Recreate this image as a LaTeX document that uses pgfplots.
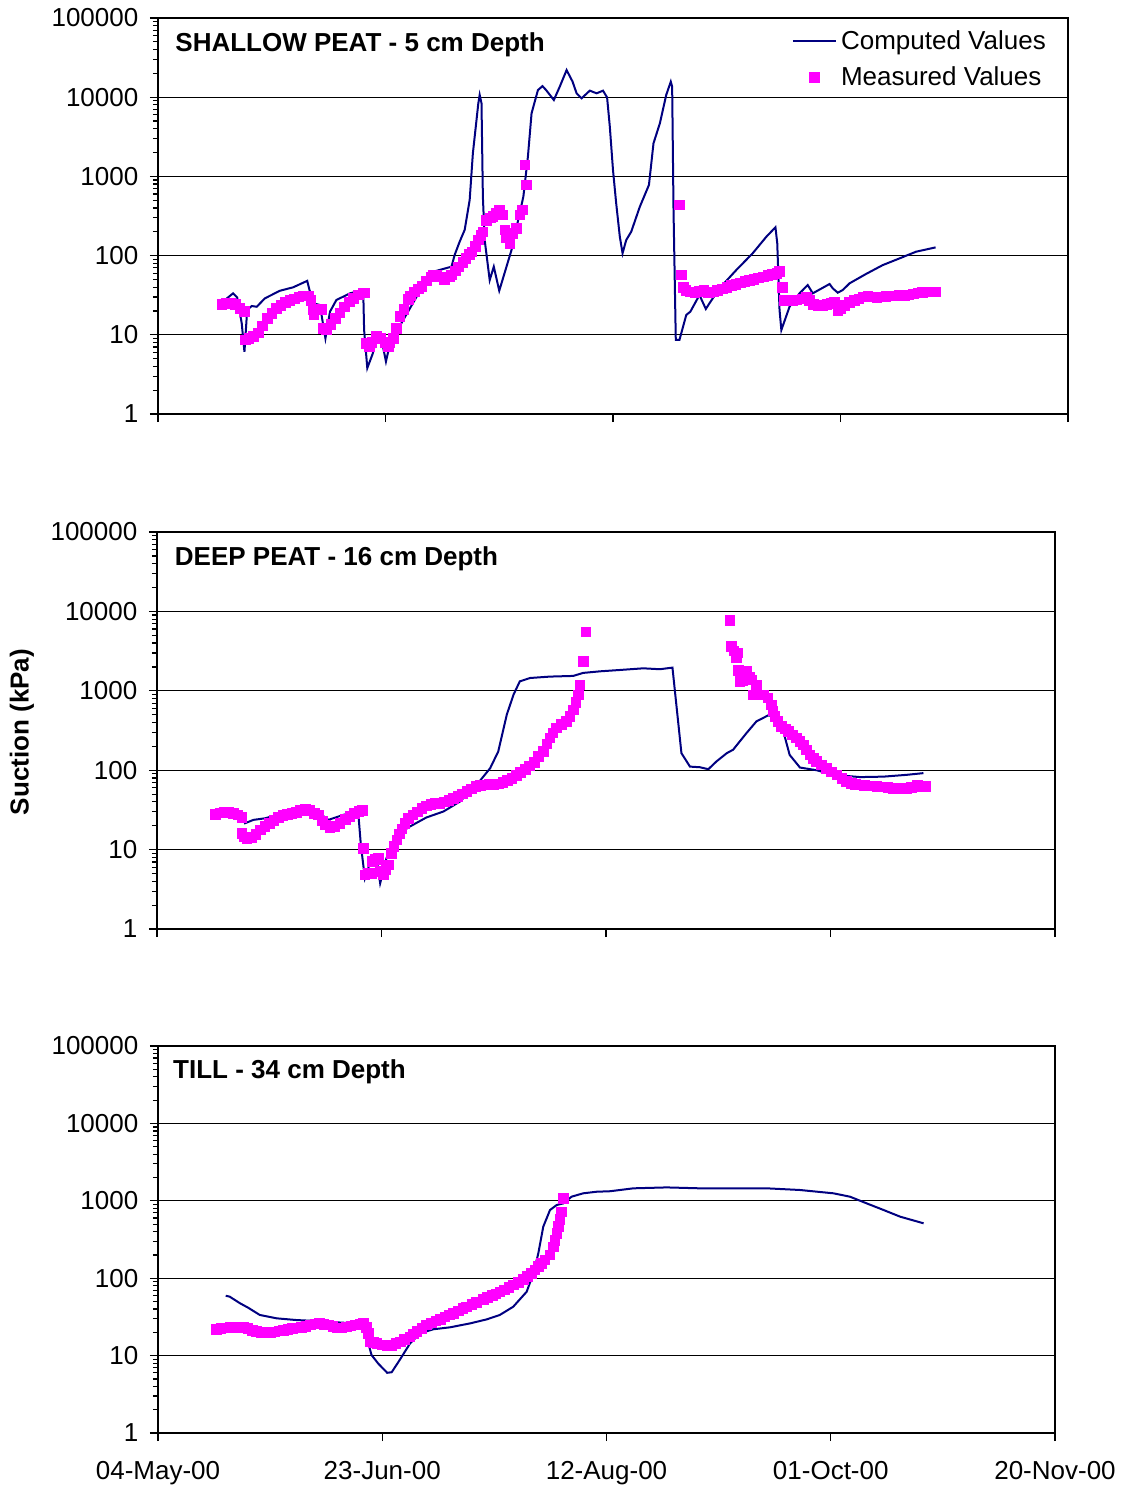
\documentclass[border=0pt]{standalone}
\usepackage{fontspec}
\setmainfont{Liberation Sans}
\usepackage{pgfplots}
\pgfplotsset{compat=1.18}
\definecolor{navyline}{RGB}{0,0,128}
\definecolor{mag}{RGB}{255,0,255}
\pgfplotsset{
  linelegend/.style={legend image code/.code={\draw[##1] (0cm,0cm) -- (0.76cm,0cm);}},
  marklegend/.style={legend image code/.code={\draw[mark repeat=2,mark phase=2,##1] plot coordinates {(0cm,0cm) (0.38cm,0cm) (0.76cm,0cm)};}},
}
\begin{document}
\begin{tikzpicture}[font=\fontsize{13}{15.6}\selectfont]
\useasboundingbox (0,0) rectangle (560pt,-744pt);
% ---------------- Panel 1 ----------------
\begin{axis}[ymode=log, scale only axis, anchor=south west,
    xmin=0, xmax=200, ymin=1, ymax=100000,
    xtick={0,50,100,150,200}, xticklabels={},
    ytick={1,10,100,1000,10000,100000},
    yticklabels={1,10,100,1000,10000,100000},
    tick align=outside, tick pos=left,
    major tick length=4pt, minor tick length=2.5pt,
    ymajorgrids, grid style={black, line width=0.5pt},
    axis line style={line width=1.3pt},
    tick style={black, line width=0.6pt},
    tick label style={font=\fontsize{13}{15.6}\selectfont},
    yticklabel style={xshift=-2.3pt},
    xticklabel style={yshift=-6.5pt},
  at={(79pt,-207pt)}, width=455pt, height=198pt,
  legend style={draw=none, fill=none, anchor=north east, at={(rel axis cs:0.987,0.99)},
    font=\fontsize{13}{15.6}\selectfont, row sep=3.2pt},
  legend cell align=left]
\addplot[navyline, line width=1pt, no markers, linelegend] coordinates {
(14.7,27.5)(16.5,33.4)(17.4,29.7)(18.4,14)(19.0,6.1)(19.6,20.6)(20.6,23.1)(21.7,22.6)(23.5,28.9)(26.8,36)(29.7,39.8)(32.8,48)(33.2,38.6)(34.1,25)(35.6,23.8)(36.3,13.3)(36.8,9.0)(37.8,19.6)(39.2,27.5)(42.2,33.4)(45.1,36.8)(45.3,11.5)(46.0,3.8)(47.2,5.8)(48.0,9.0)(49.3,7.8)(50.1,4.6)(51.0,7.8)(53.9,15.4)(56.8,30)(60.5,62.6)(64.5,72.5)(65.2,102)(66.3,150)(67.4,211)(68.5,504)(69.2,1950)(70.4,8370)(70.7,10700)(71.1,8370)(71.4,556)(71.8,157)(72.9,49)(73.8,72.5)(75.0,36)(77.7,118)(80.3,556)(81.3,1780)(82.1,6260)(83.5,12300)(84.5,13800)(85.3,12300)(87.0,9220)(88.3,13600)(89.8,22000)(91.1,15800)(92.0,11200)(93.1,9690)(94.9,12100)(96.4,11200)(97.8,12100)(98.7,9940)(99.3,4250)(100,1200)(100.7,457)(101.5,173)(102.1,107)(102.9,157)(104.0,200)(105.9,415)(107.9,780)(108.9,2620)(110.3,4680)(111.7,10700)(112.7,15700)(113.0,13600)(113.3,377)(113.8,8.6)(114.6,8.6)(115.2,11.5)(116.1,17.8)(117.0,19.6)(119.0,31.8)(120.4,21.2)(121.2,25)(123.4,38.6)(127.1,65.8)(130.7,107)(133.7,173)(135.7,228)(136.1,143)(136.6,20.6)(137.0,11.5)(138.8,22.6)(141.0,33.4)(142.8,42.5)(143.9,33.4)(147.6,43.8)(148.3,38.6)(149.4,34)(150.5,36.8)(152.0,44.7)(155.6,58.6)(159.3,76)(163.0,92.4)(166.6,112)(170.9,127)
};
\addlegendentry{Computed Values}
\addplot[only marks, mark=square*, mark size=2.4pt, color=mag, mark options={draw=mag, fill=mag}, marklegend] coordinates {
(14,24.3)(15,25)(16,25)(17,24)(18,21.6)(19,19.6)(19.2,8.6)(20,9)(21,9.6)(22,10.6)(23,13)(24,16)(25,18.5)(26,21.5)(27,23.5)(28,25.5)(29,27)(30,28.5)(31,30)(32,31)(33,31)(33.6,27)(34,21)(34.3,17.8)(35,21)(36,21)(36.3,12.1)(37,11.5)(38,13.5)(39,16)(40,19)(41,22.5)(42,26)(43,29)(44,32)(45,34)(45.5,34)(45.8,7.8)(46.5,7)(47,8)(48,9.5)(49,9)(50,8)(50.6,7.1)(51,8)(51.7,9)(52.4,12)(53.2,17)(54,21)(55,28)(55.5,31)(56.4,35)(57.2,38)(58,41)(59,48)(60,54)(60.5,57)(61.2,56)(62,54)(63,50)(64,54)(64.5,57)(65.3,64)(66,72)(67,82)(67.7,92)(68.5,103)(69,112)(69.8,130)(70.4,157)(71,180)(71.4,200)(72.2,280)(73,300)(73.6,310)(74.3,340)(75,377)(75.8,326)(76.2,211)(76.6,170)(77.3,143)(78,191)(78.8,221)(79.5,326)(80.1,377)(81,780)(80.6,1390)
(114.6,435)(115,57)(115.5,40)(116,36.5)(117,35)(118,34)(119,35.5)(120,36.5)(121,34)(122,35)(123,36.5)(124,38)(125,40)(126,42)(127,43.5)(128,45)(129,47)(130,49)(131,50.5)(132,52)(133,54)(134,56)(135,58)(136,60)(136.6,63)(137.2,40)(137.7,27)(138.5,27)(139.5,27)(140.3,27.5)(141.5,28.5)(142.5,29.7)(143.2,27)(144,24)(145,23.5)(146,23.5)(147,24)(148,25)(148.7,26)(149.4,20)(150,21.5)(151,23.5)(152,25.5)(153,27)(154,28.5)(155,30)(156,30.5)(157,30)(158,29.7)(159,30)(160,30.5)(161,31)(162,31)(163,31.5)(164,31.5)(165,32)(166,33)(167,34)(168,34.5)(169,35)(170,35)(171,35)
};
\addlegendentry{Measured Values}
\node[anchor=base west, inner sep=0pt, font=\fontsize{13}{15.6}\selectfont\bfseries] at (rel axis cs:0.0187,0.915) {SHALLOW PEAT - 5 cm Depth};
\end{axis}
% ---------------- Panel 2 ----------------
\begin{axis}[ymode=log, scale only axis, anchor=south west,
    xmin=0, xmax=200, ymin=1, ymax=100000,
    xtick={0,50,100,150,200}, xticklabels={},
    ytick={1,10,100,1000,10000,100000},
    yticklabels={1,10,100,1000,10000,100000},
    tick align=outside, tick pos=left,
    major tick length=4pt, minor tick length=2.5pt,
    ymajorgrids, grid style={black, line width=0.5pt},
    axis line style={line width=1.3pt},
    tick style={black, line width=0.6pt},
    tick label style={font=\fontsize{13}{15.6}\selectfont},
    yticklabel style={xshift=-2.3pt},
    xticklabel style={yshift=-6.5pt},
  at={(78.5pt,-464.5pt)}, width=449pt, height=198.5pt]
\addplot[navyline, line width=1pt, no markers] coordinates {
(13.3,28.8)(18.9,27.4)(19.6,21.5)(21.5,23.7)(24.1,24.8)(28.1,28.8)(33.3,33.9)(35.6,30.2)(38.2,23.7)(41.5,27.4)(44.8,30.2)(45.4,11.5)(46.3,4.36)(47.8,7.8)(48.9,7.9)(49.7,3.77)(51.1,7.8)(53.4,15.3)(56.3,19.5)(60.0,25.4)(63.8,30.2)(67.5,40.4)(71.2,65.5)(74.2,106)(76.0,172)(77.9,500)(79.4,893)(80.8,1315)(83.1,1450)(87.5,1510)(92.7,1540)(94.9,1680)(98.7,1760)(103.1,1830)(108.3,1920)(112.0,1870)(114.8,1960)(116.8,164)(118.7,111)(120.9,109)(122.8,103)(124.6,129)(126.9,164)(128.3,181)(131.3,294)(133.5,412)(136.1,490)(137.2,480)(139.1,374)(140.9,156)(143.2,108)(146.9,100)(150.6,87.5)(156.6,81.9)(161.8,83)(167.0,87.5)(170.7,91.9)
};
\addplot[only marks, mark=square*, mark size=2.4pt, color=mag, mark options={draw=mag, fill=mag}] coordinates {
(13,28)(14,29)(15,29.5)(16,29.6)(17,28.5)(18,27.5)(18.9,25.4)(18.9,16.1)(19.5,14.5)(20,13.9)(21,14.2)(22,15.5)(23,17.7)(24,19.5)(25,21.3)(26,23.5)(27,25.5)(28,26.8)(29,27.8)(30,28.6)(31,29.5)(32,31)(33,32.6)(34,31)(35,28.8)(36,27.4)(36.8,23)(37.5,20.5)(38.5,19)(39.5,19.5)(40.7,21.5)(42,24)(43,26)(44,28.5)(45,30.5)(45.8,31)(46,10.4)(46.3,4.8)(47,5)(47.8,5)(48,7.1)(48.7,7.5)(49.3,7.8)(49.7,5.3)(50.4,4.8)(51,5.6)(51.5,6.4)(52.2,9)(52.8,11)(53.4,13.3)(54,15.8)(54.5,18.3)(55.2,21.5)(56,24.8)(57,27.5)(58,30)(59,33)(60,35.6)(61,37)(62,38)(63,38.5)(64,40)(65,42)(66,44.5)(67,47)(68,50.5)(69,54)(70,58)(71,62)(72,64)(73,65.5)(74,66)(75,66.5)(76,67)(77,70)(78,74)(79,79.5)(80,86)(81,94)(82,102)(83,113)(84,126)(85,148)(86,172)(86.8,215)(87.5,254)(88.2,295)(89,340)(90,375)(91.2,412)(92,480)(92.7,578)(93.3,720)(93.8,893)(94.2,1190)(94.9,2350)(95.5,5510)
(127.6,7730)(127.9,3630)(128.5,3200)(129.2,2990)(129.0,2590)(129.5,1800)(129.8,1315)(130.5,1350)(131.3,1760)(132,1500)(132.5,1380)(133.5,1190)(132.8,893)(134,893)(135.1,893)(136.1,811)(136.8,668)(137.2,560)(137.6,476)(138.3,410)(139.1,356)(140,330)(140.6,308)(141.5,280)(142.4,254)(143.2,230)(143.9,209)(144.6,180)(145.4,156)(146.2,141)(146.9,129)(148,117)(149.1,106)(150.2,95)(151.4,87.5)(152.5,79)(153.6,72)(154.6,68.5)(155.6,66.5)(156.6,65.5)(157.6,64.5)(158.6,63.5)(160.3,62.3)(161.5,61.5)(162.8,60.5)(164,59.4)(165,59.4)(166,59.4)(167,59.4)(168,60.5)(169.3,64.1)(170.2,63)(171.1,62.3)
};
\node[anchor=base west, inner sep=0pt, font=\fontsize{13}{15.6}\selectfont\bfseries] at (rel axis cs:0.0195,0.915) {DEEP PEAT - 16 cm Depth};
\end{axis}
% ---------------- Panel 3 ----------------
\begin{axis}[ymode=log, scale only axis, anchor=south west,
    xmin=0, xmax=200, ymin=1, ymax=100000,
    xtick={0,50,100,150,200},
    xticklabels={04-May-00,23-Jun-00,12-Aug-00,01-Oct-00,20-Nov-00},
    ytick={1,10,100,1000,10000,100000},
    yticklabels={1,10,100,1000,10000,100000},
    tick align=outside, tick pos=left,
    major tick length=4pt, minor tick length=2.5pt,
    ymajorgrids, grid style={black, line width=0.5pt},
    axis line style={line width=1.3pt},
    tick style={black, line width=0.6pt},
    tick label style={font=\fontsize{13}{15.6}\selectfont},
    yticklabel style={xshift=-2.3pt},
    xticklabel style={yshift=-6.5pt},
  at={(79pt,-716.5pt)}, width=448.5pt, height=193.5pt]
\addplot[navyline, line width=1pt, no markers] coordinates {
(15.1,59.4)(16.0,57.7)(18.3,47.4)(20.1,41.6)(22.7,33.5)(26.5,30.3)(30.9,28.8)(35.4,28)(41.3,26.6)(45.8,26.1)(46.5,17.6)(47.6,10.2)(49.1,7.9)(51.1,6.0)(52.1,6.1)(53.9,8.8)(56.2,14.4)(58.4,19.4)(61.4,21.9)(65.1,23.2)(69.6,26.1)(73.3,29.4)(76.2,33.5)(79.2,42.8)(82.2,66.9)(83.7,116)(84.8,210)(85.9,463)(87.4,760)(88.9,883)(90.4,927)(92.2,1130)(94.8,1250)(97.8,1310)(100.8,1330)(106.0,1450)(113.4,1490)(120.8,1450)(135.7,1450)(143.1,1380)(150.6,1250)(154.3,1130)(158.0,927)(161.8,760)(165.5,623)(170.7,512)
};
\addplot[only marks, mark=square*, mark size=2.4pt, color=mag, mark options={draw=mag, fill=mag}] coordinates {
(13,21.9)(14,22.3)(15,22.8)(16,23.2)(17,23.2)(18,23.2)(19,23.2)(20,22.5)(21,21.3)(22,20.4)(23,20)(24,19.8)(25,19.8)(26,20.2)(27,20.8)(28,21.2)(29,21.8)(30,22.3)(31,22.8)(32,23.2)(33,24)(34,25)(35,25.8)(36,26)(37,25.5)(38,25)(39,24)(40,22.8)(41,22.8)(42,23.5)(43,24.2)(44,25)(45,25.8)(45.8,26.1)(46.5,23)(46.9,19.4)(47.3,15.1)(48,14.8)(48.8,14.4)(50,13.8)(51,13.3)(52,13.6)(53,14.3)(54,15.1)(55,16.2)(56.2,17.5)(57,19)(57.7,20.4)(58.8,22.5)(59.9,24.9)(61,26.5)(62,28)(62.9,29.4)(64,31.5)(65,33.5)(65.8,35.2)(67,38)(68,41)(68.8,42.8)(70,46)(71,49)(72.5,53.4)(73.5,56.5)(74.5,60)(75.3,63)(76.2,66.9)(77.2,70.5)(78.2,76)(79.2,81.7)(80.3,89)(81.5,96.8)(82.4,106)(83.3,116)(84,128)(84.8,141)(85.5,155)(86.3,172)(87.4,199)(88.1,255)(88.5,310)(88.9,380)(89.3,470)(89.6,577)(90,723)(90.4,1077)
};
\node[anchor=base west, inner sep=0pt, font=\fontsize{13}{15.6}\selectfont\bfseries] at (rel axis cs:0.0165,0.915) {TILL - 34 cm Depth};
\end{axis}
\node[rotate=90, font=\fontsize{13}{15.6}\selectfont\bfseries] at (11pt,-366pt) {Suction (kPa)};
\end{tikzpicture}
\end{document}
